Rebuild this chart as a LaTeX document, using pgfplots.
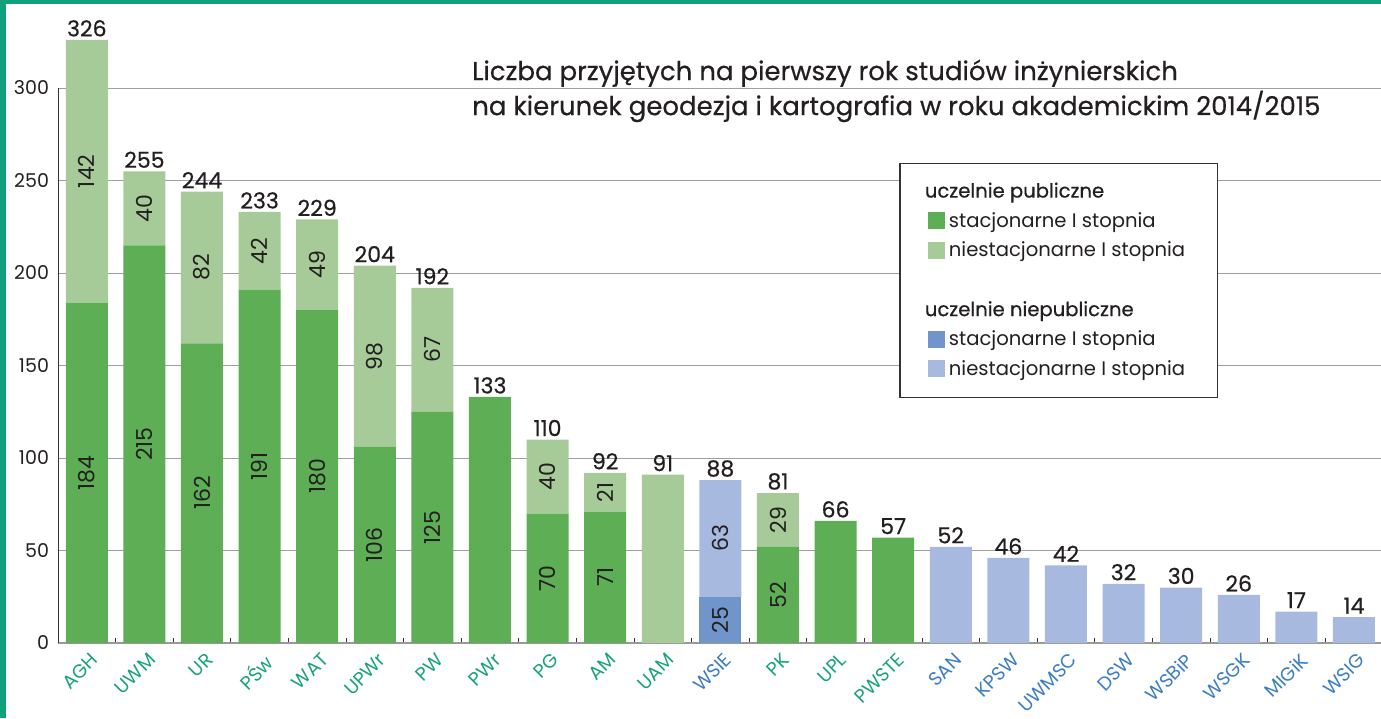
\documentclass[border=0pt]{standalone}
\usepackage{pgfplots}
\usepackage{pgfplotstable}
\pgfplotsset{compat=1.18}
\usepackage{fontspec}
\setmainfont{Poppins}
\newfontfamily\medium[FakeBold=0.5]{Poppins}
\definecolor{pubdark}{HTML}{5DAE55}
\definecolor{publight}{HTML}{A6CB98}
\definecolor{npubdark}{HTML}{7095CB}
\definecolor{npublight}{HTML}{A8B9E0}
\definecolor{tealtxt}{HTML}{17A27B}
\definecolor{bluetxt}{HTML}{3A7DC4}
\definecolor{frame}{HTML}{0FA07C}
\definecolor{txt}{HTML}{231F20}

\pgfplotstableread{
x ps pn ns nn tot
0 184 142 0 0 326
1 215 40 0 0 255
2 162 82 0 0 244
3 191 42 0 0 233
4 180 49 0 0 229
5 106 98 0 0 204
6 125 67 0 0 192
7 133 0 0 0 133
8 70 40 0 0 110
9 71 21 0 0 92
10 0 91 0 0 91
11 0 0 25 63 88
12 52 29 0 0 81
13 66 0 0 0 66
14 57 0 0 0 57
15 0 0 0 52 52
16 0 0 0 46 46
17 0 0 0 42 42
18 0 0 0 32 32
19 0 0 0 30 30
20 0 0 0 26 26
21 0 0 0 17 17
22 0 0 0 14 14
}\data
\pgfplotstableread{
x y lab
0 92 184
0 255 142
1 107.5 215
1 235 40
2 81 162
2 203 82
3 95.5 191
3 212 42
4 90 180
4 204.5 49
5 53 106
5 155 98
6 62.5 125
6 158.5 67
8 35 70
8 90 40
9 35.5 71
9 81.5 21
11 12.5 25
11 56.5 63
12 26 52
12 66.5 29
}\inner

\pgfplotsset{
  common/.style={
    at={(29pt,37.5pt)}, anchor=south west,
    scale only axis, width=661.5pt, height=277.5pt,
    xmin=-0.5, xmax=22.47, ymin=0, ymax=300,
  },
}

\begin{document}
\begin{tikzpicture}
\useasboundingbox (0,0) rectangle (690.5pt,359pt);
\begin{axis}[common,
  ybar stacked, bar width=21pt,
  axis x line*=bottom, axis y line*=left,
  axis line style={-},
  x axis line style={draw=gray!80, line width=0.7pt},
  y axis line style={draw=black!80, line width=0.5pt},
  ytick={0,50,...,300},
  ytick style={draw=none},
  ymajorgrids, grid style={gray!75, line width=0.5pt},
  xtick={0,...,22},
  major x tick style={draw=none},
  minor xtick={0.5,1.5,...,21.5},
  minor x tick style={draw=black!80, line width=0.4pt},
  minor tick length=2.5pt, tick align=inside,
  xticklabels={
    \textcolor{tealtxt}{AGH},\textcolor{tealtxt}{UWM},\textcolor{tealtxt}{UR},
    \textcolor{tealtxt}{PŚw},\textcolor{tealtxt}{WAT},\textcolor{tealtxt}{UPWr},
    \textcolor{tealtxt}{PW},\textcolor{tealtxt}{PWr},\textcolor{tealtxt}{PG},
    \textcolor{tealtxt}{AM},\textcolor{tealtxt}{UAM},\textcolor{bluetxt}{WSIE},
    \textcolor{tealtxt}{PK},\textcolor{tealtxt}{UPL},\textcolor{tealtxt}{PWSTE},
    \textcolor{bluetxt}{SAN},\textcolor{bluetxt}{KPSW},\textcolor{bluetxt}{UWMSC},
    \textcolor{bluetxt}{DSW},\textcolor{bluetxt}{WSBiP},\textcolor{bluetxt}{WSGK},
    \textcolor{bluetxt}{MIGiK},\textcolor{bluetxt}{WSIG}},
  xticklabel style={rotate=45, anchor=north east, font=\fontsize{9.5}{10}\selectfont, xshift=-1.5pt, yshift=-3.5pt, inner sep=0.5pt},
  yticklabel style={font=\fontsize{9.5}{10}\selectfont, text=txt, xshift=-1pt},
  /pgf/number format/assume math mode=true,
  clip=false,
  legend image code/.code={\fill[#1,draw=none] (0pt,-4pt) rectangle (8.5pt,4.5pt);},
  legend style={at={(rel axis cs:0.6359,0.8648)}, anchor=north west,
    draw=black!80, line width=0.6pt, fill=white,
    font=\fontsize{9.8}{11}\selectfont, text=txt,
    inner xsep=14pt, inner ysep=7.5pt, row sep=1.8pt,
    /tikz/every even column/.append style={column sep=3.5pt}},
  legend cell align=left,
]
\addlegendimage{empty legend}
\addlegendentry{\hspace*{-12pt}{\medium uczelnie publiczne}}
\addplot[fill=pubdark, draw=none] table[x=x, y=ps] {\data};
\addlegendentry{stacjonarne I stopnia}
\addplot[fill=publight, draw=none] table[x=x, y=pn] {\data};
\addlegendentry{niestacjonarne I stopnia}
\addlegendimage{empty legend}
\addlegendentry{\strut}
\addlegendimage{empty legend}
\addlegendentry{\hspace*{-12pt}{\medium uczelnie niepubliczne}}
\addplot[fill=npubdark, draw=none] table[x=x, y=ns] {\data};
\addlegendentry{stacjonarne I stopnia}
\addplot[fill=npublight, draw=none] table[x=x, y=nn] {\data};
\addlegendentry{niestacjonarne I stopnia\rule[-9pt]{0pt}{9pt}}
\node[anchor=north west, align=left, inner sep=0pt, text=txt,
  font=\medium\fontsize{13}{17.5}\selectfont] at (rel axis cs:0.3128,1.0518)
  {Liczba przyjętych na pierwszy rok studiów inżynierskich\\
   na kierunek geodezja i kartografia w roku akademickim 2014/2015};
\end{axis}
\begin{axis}[common, hide axis, clip=false]
\addplot[draw=none, mark=none, nodes near coords, point meta=explicit symbolic,
  nodes near coords style={font=\medium\fontsize{11}{12}\selectfont, text=txt, anchor=south, inner sep=1.5pt}]
  table[x=x, y=tot, meta=tot] {\data};
\addplot[draw=none, mark=none, nodes near coords, point meta=explicit symbolic,
  nodes near coords style={font=\fontsize{11}{12}\selectfont, text=txt, rotate=90, anchor=center}]
  table[x=x, y=y, meta=lab] {\inner};
\end{axis}
\fill[frame] (0,357pt) rectangle (690.5pt,359pt);
\fill[frame] (0,0) rectangle (3pt,359pt);
\end{tikzpicture}
\end{document}
